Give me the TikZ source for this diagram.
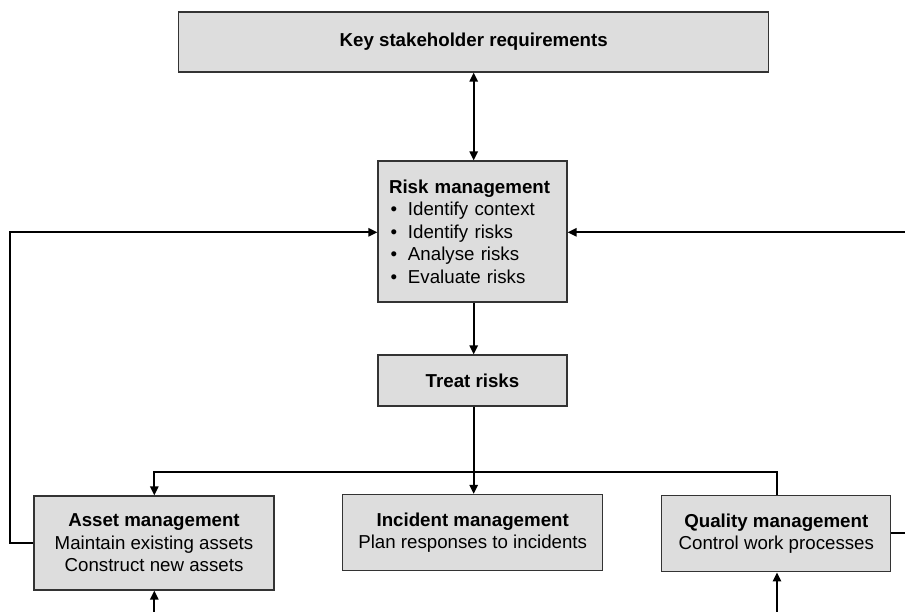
\documentclass[tikz,border=0pt]{standalone}
\usepackage{fontspec}
\setmainfont{Liberation Sans}
\usetikzlibrary{arrows.meta}
\definecolor{boxfill}{HTML}{DDDDDD}
\definecolor{boxline}{HTML}{333333}
\newcommand{\bul}{\makebox[19pt][l]{\hspace{1.5pt}•}}
\begin{document}
\begin{tikzpicture}[x=1pt,y=-1pt,
  box/.style={draw=boxline,line width=1.1pt,fill=boxfill,rectangle,inner sep=0pt,align=center,
    font=\fontsize{18.7}{22.5}\selectfont},
  conn/.style={line width=2.3pt,black},
  tip/.style={-{Triangle[length=9pt,width=8pt]}},
  twotip/.style={{Triangle[length=9pt,width=8pt]}-{Triangle[length=9pt,width=8pt]}}]
\useasboundingbox (0,0) rectangle (905,612);
\fill[white] (0,0) rectangle (905,612);

\node[box,minimum width=590pt,minimum height=60pt] (key) at (473.7,42) {\textbf{Key stakeholder requirements}};
\node[box,minimum width=189pt,minimum height=141pt,text width=167pt,align=left] (risk) at (472.5,231.5)
  {\textbf{Risk management}\\\bul Identify context\\\bul Identify risks\\\bul Analyse risks\\\bul Evaluate risks};
\node[box,minimum width=189pt,minimum height=51pt] (treat) at (472.5,380.5) {\textbf{Treat risks}};
\node[box,minimum width=240pt,minimum height=94pt] (asset) at (154,543)
  {\textbf{Asset management}\\Maintain existing assets\\Construct new assets};
\node[box,minimum width=260pt,minimum height=76pt] (incident) at (472.7,532.5)
  {\textbf{Incident management}\\Plan responses to incidents};
\node[box,minimum width=229pt,minimum height=76pt] (quality) at (776.3,533.8)
  {\textbf{Quality management}\\Control work processes};

\coordinate (bx) at (473.7,0);
\coordinate (busL) at (154.3,472);
\coordinate (busR) at (777,472);
\coordinate (lc1) at (10,543);
\coordinate (lc2) at (10,232.3);
\coordinate (re1) at (906,533.3);
\coordinate (re2) at (906,232.3);
\coordinate (b1) at (154.3,613);
\coordinate (b2) at (777,613);

\draw[conn,twotip] (key.south -| bx) -- (risk.north -| bx);
\draw[conn,tip] (risk.south -| bx) -- (treat.north -| bx);
\draw[conn,tip] (treat.south -| bx) -- (incident.north -| bx);
\draw[conn,tip] (quality.north -| busR) -- (busR) -- (busL) -- (asset.north -| busL);
\draw[conn,tip] (asset.west) -- (lc1) -- (lc2) -- (lc2 -| risk.west);
\draw[conn] (quality.east |- re1) -- (re1);
\draw[conn,tip] (re2) -- (re2 -| risk.east);
\draw[conn,tip] (b1) -- (b1 |- asset.south);
\draw[conn,tip] (b2) -- (b2 |- quality.south);
\end{tikzpicture}
\end{document}
